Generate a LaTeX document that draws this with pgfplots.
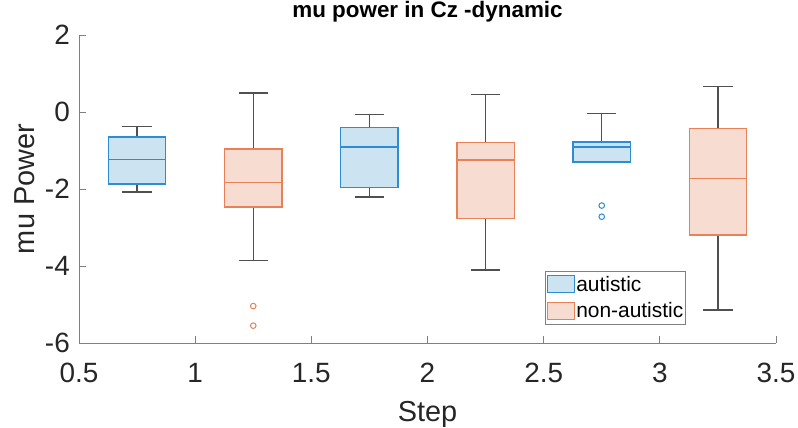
\documentclass[border=0pt]{standalone}
\usepackage{pgfplots}
\pgfplotsset{compat=1.18}
\usepgfplotslibrary{statistics}
\usepackage{fontspec}
\setmainfont{Liberation Sans}

\definecolor{autblue}{RGB}{45,140,210}
\definecolor{autfill}{RGB}{204,227,242}
\definecolor{nonorange}{RGB}{232,128,88}
\definecolor{nonfill}{RGB}{247,221,209}
\definecolor{whisk}{RGB}{80,80,80}
\definecolor{axgray}{RGB}{128,128,128}
\definecolor{txt}{RGB}{38,38,38}

\pgfplotsset{
  autbox/.style={
    forget plot, boxplot/draw direction=y,
    draw=autblue, fill=autfill, line width=1.4bp,
    mark=o, mark size=2.8bp, mark options={draw=autblue, fill=none, line width=1bp},
    boxplot/every whisker/.style={draw=whisk, line width=1.4bp},
    boxplot/every median/.style={draw=autblue, line width=1.7bp},
  },
  nonbox/.style={
    forget plot, boxplot/draw direction=y,
    draw=nonorange, fill=nonfill, line width=1.4bp,
    mark=o, mark size=2.8bp, mark options={draw=nonorange, fill=none, line width=1bp},
    boxplot/every whisker/.style={draw=whisk, line width=1.4bp},
    boxplot/every median/.style={draw=nonorange, line width=1.7bp},
  },
}

\begin{document}
\begin{tikzpicture}
\path[use as bounding box] (-79bp,-85bp) rectangle (719bp,343bp);
\begin{axis}[
  at={(0bp,0bp)}, anchor=south west,
  scale only axis, width=697bp, height=308bp,
  xmin=0.5, xmax=3.5, ymin=-6, ymax=2,
  xtick={0.5,1,1.5,2,2.5,3,3.5},
  ytick={-6,-4,-2,0,2},
  axis x line*=bottom, axis y line*=left,
  axis line style={axgray, line width=0.8bp},
  tick style={axgray, line width=0.8bp},
  tick align=inside, major tick length=7bp,
  /pgf/number format/assume math mode=true,
  ticklabel style={font=\fontsize{28}{30}\selectfont, text=txt},
  xticklabel style={anchor=base, inner sep=0pt, yshift=-39bp},
  yticklabel style={anchor=east, inner sep=0pt, xshift=-9bp},
  title={mu power in Cz -dynamic},
  every axis title/.style={font=\bfseries\fontsize{22.5}{26}\selectfont, text=black,
    at={(axis description cs:0.5,1)}, anchor=base, inner sep=0pt, yshift=18bp},
  xlabel={Step},
  xlabel style={font=\fontsize{29}{32}\selectfont, text=txt,
    at={(axis description cs:0.5,0)}, anchor=base, inner sep=0pt, yshift=-78.7bp},
  ylabel={mu Power},
  ylabel style={font=\fontsize{29}{32}\selectfont, text=txt,
    at={(axis description cs:0,0.5)}, anchor=base, inner sep=0pt, yshift=44bp},
  legend style={at={(axis description cs:0.669,0.235)}, anchor=north west,
    draw=axgray, line width=0.6bp, fill=white,
    font=\fontsize{21}{23}\selectfont, text=black,
    inner xsep=1.5bp, inner ysep=4bp,
    nodes={inner sep=1bp, anchor=west},
    row sep=8bp},
  legend cell align=left,
  legend image code/.code={\draw[#1] (0bp,-8.5bp) rectangle (27bp,8.5bp);},
  clip=false,
]

% Step 1
\addplot[autbox, boxplot prepared={draw position=0.75,
  lower whisker=-2.08, lower quartile=-1.87, median=-1.23,
  upper quartile=-0.65, upper whisker=-0.38,
  box extend=0.247, whisker extend=0.126}] coordinates {};
\addplot[nonbox, boxplot prepared={draw position=1.25,
  lower whisker=-3.86, lower quartile=-2.47, median=-1.83,
  upper quartile=-0.96, upper whisker=0.49,
  box extend=0.247, whisker extend=0.126}] coordinates {(0,-5.04) (0,-5.55)};

% Step 2
\addplot[autbox, boxplot prepared={draw position=1.75,
  lower whisker=-2.21, lower quartile=-1.96, median=-0.91,
  upper quartile=-0.41, upper whisker=-0.06,
  box extend=0.247, whisker extend=0.126}] coordinates {};
\addplot[nonbox, boxplot prepared={draw position=2.25,
  lower whisker=-4.10, lower quartile=-2.76, median=-1.24,
  upper quartile=-0.79, upper whisker=0.45,
  box extend=0.247, whisker extend=0.126}] coordinates {};

% Step 3
\addplot[autbox, boxplot prepared={draw position=2.75,
  lower whisker=-1.30, lower quartile=-1.30, median=-0.90,
  upper quartile=-0.78, upper whisker=-0.04,
  box extend=0.247, whisker extend=0.126}] coordinates {(0,-2.43) (0,-2.72)};
\addplot[nonbox, boxplot prepared={draw position=3.25,
  lower whisker=-5.14, lower quartile=-3.19, median=-1.73,
  upper quartile=-0.43, upper whisker=0.66,
  box extend=0.247, whisker extend=0.126}] coordinates {};

\addlegendimage{draw=autblue, fill=autfill, line width=1.2bp}
\addlegendentry{autistic}
\addlegendimage{draw=nonorange, fill=nonfill, line width=1.2bp}
\addlegendentry{non-autistic}
\end{axis}
\end{tikzpicture}
\end{document}
